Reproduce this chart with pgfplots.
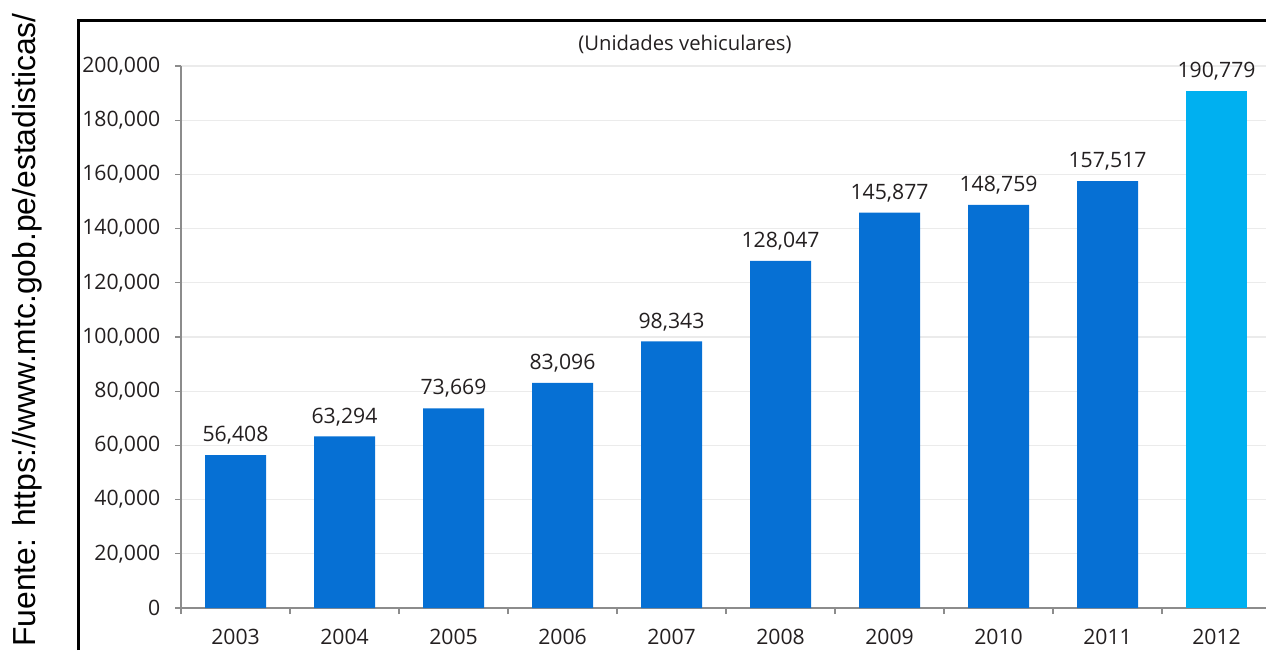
\documentclass[border=0pt]{standalone}
\usepackage{pgfplots}
\pgfplotsset{compat=1.18}
\usepackage{fontspec}
\setmainfont{Open Sans}
\newfontfamily\arialfont{Liberation Sans}
\definecolor{barblue}{RGB}{6,112,212}
\definecolor{barcyan}{RGB}{0,176,240}
\definecolor{txt}{RGB}{35,31,32}
\definecolor{axisgray}{RGB}{140,140,140}
\definecolor{gridgray}{RGB}{235,235,235}
\pgfplotstableread{
x y
0 56408
1 63294
2 73669
3 83096
4 98343
5 128047
6 145877
7 148759
8 157517
}\bluedata
\pgfplotstableread{
x y
9 190779
}\cyandata
\begin{document}
\begin{tikzpicture}
\useasboundingbox (0pt,0pt) rectangle (949.5pt,487.5pt);
\draw[black, line width=2.25pt] (58.5pt,0pt) -- (58.5pt,471.75pt) -- (951pt,471.75pt);
\node[rotate=90, anchor=base, inner sep=0pt, font=\arialfont\fontsize{23.9}{28}\selectfont] at (26.25pt,240pt) {Fuente: https://www.mtc.gob.pe/estadisticas/};
\node[anchor=center, inner sep=0pt, text=txt, font=\fontsize{15.2}{18}\selectfont] at (513.75pt,454.5pt) {(Unidades vehiculares)};
\begin{axis}[
  at={(135.75pt,31.5pt)}, anchor=south west,
  scale only axis, width=813.75pt, height=406.5pt,
  xmin=-0.5, xmax=9.454, ymin=0, ymax=200000,
  axis lines=left, axis line style={draw=axisgray, line width=1.1pt, -},
  ytick={0,20000,...,200000},
  ymajorgrids, grid style={draw=gridgray, line width=1pt},
  xtick={-0.5,0.5,...,8.5},
  xticklabels={2003,2004,2005,2006,2007,2008,2009,2010,2011,2012},
  xticklabel style={xshift=40.875pt, yshift=-7.5pt},
  yticklabel style={xshift=-7.5pt},
  tick align=outside, major tick length=4.5pt,
  tick style={draw=axisgray, line width=1pt},
  ticklabel style={font=\fontsize{15.9}{19}\selectfont, text=txt},
  /pgf/number format/assume math mode=true,
  /pgf/number format/fixed, /pgf/number format/precision=0,
  /pgf/number format/1000 sep={,},
  scaled y ticks=false,
  ybar, bar width=45.75pt, bar shift=0pt,
  nodes near coords,
  nodes near coords style={font=\fontsize{15.9}{19}\selectfont, text=txt, yshift=4.5pt, /pgf/number format/assume math mode=true, /pgf/number format/fixed, /pgf/number format/precision=0, /pgf/number format/1000 sep={,}},
  clip=false,
]
\addplot[fill=barblue, draw=none] table[x=x,y=y] {\bluedata};
\addplot[fill=barcyan, draw=none] table[x=x,y=y] {\cyandata};
\end{axis}
\end{tikzpicture}
\end{document}
